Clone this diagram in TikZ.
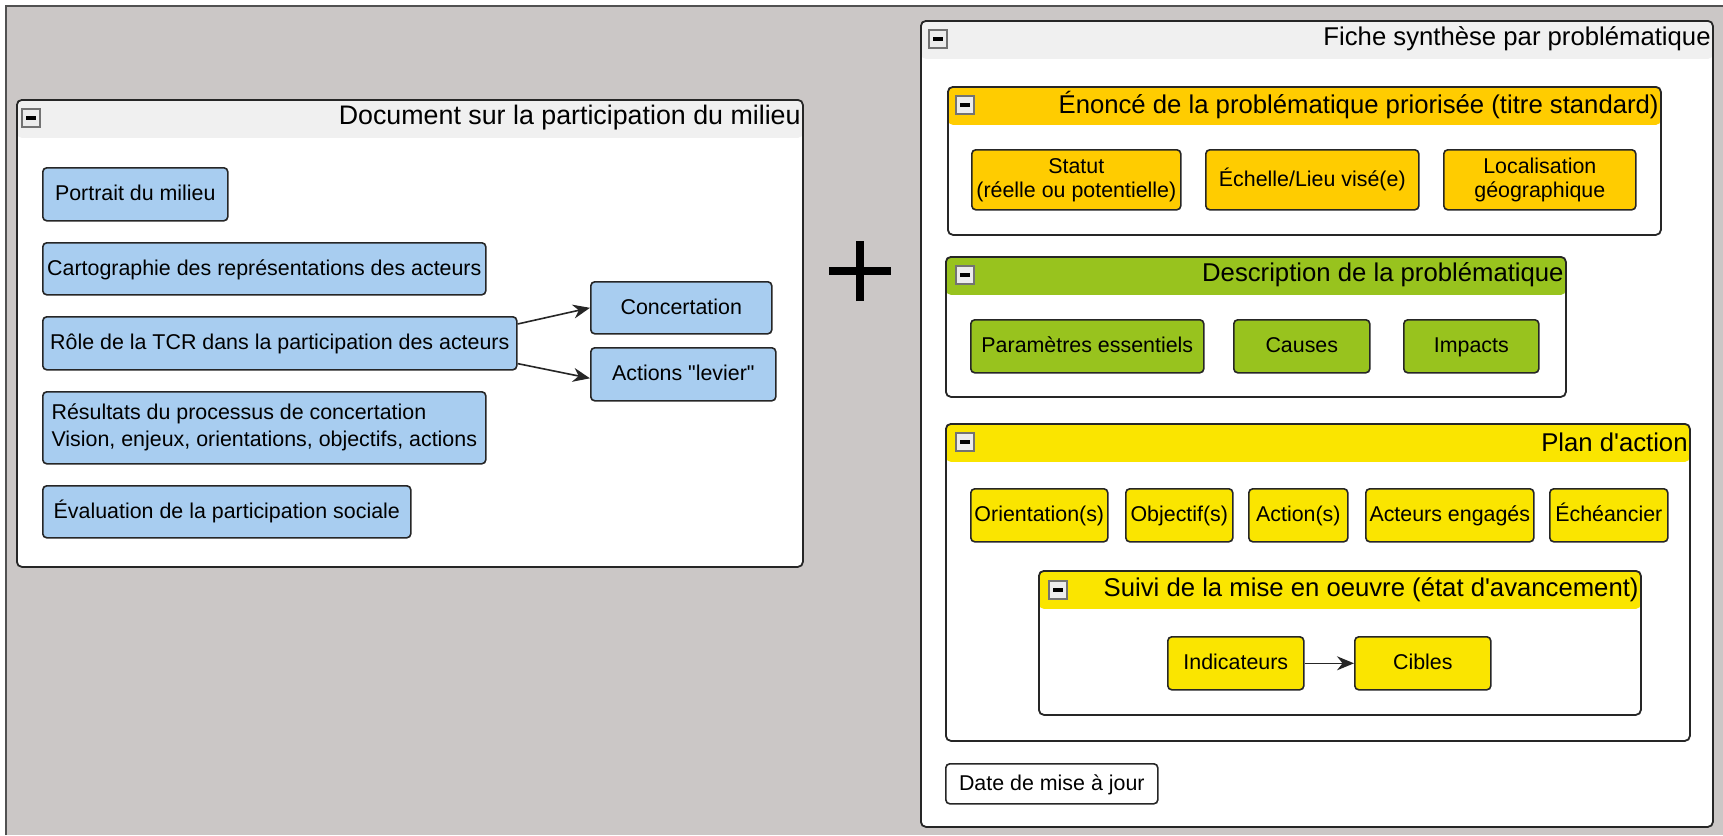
\documentclass[tikz,border=0pt]{standalone}
\usepackage{fontspec}
\setmainfont{Liberation Sans}[Ligatures=TeXOff]
\usetikzlibrary{arrows.meta,positioning}

\definecolor{bggray}{RGB}{203,199,198}
\definecolor{edge}{RGB}{38,38,38}
\definecolor{headgray}{RGB}{240,240,240}
\definecolor{skyblue}{RGB}{168,205,240}
\definecolor{amber}{RGB}{255,204,0}
\definecolor{leaf}{RGB}{152,195,30}
\definecolor{lemon}{RGB}{250,229,0}

\begin{document}
\begin{tikzpicture}[x=1pt, y=-1pt,
    box/.style={rectangle, draw=edge, line width=1.6pt, rounded corners=4pt, inner sep=0pt,
        anchor=north west, align=center, text=black, font=\fontsize{21.4}{24}\selectfont},
    oneline/.style={text height=16.5pt, text depth=4pt},
    bluebox/.style={box, fill=skyblue},
    orangebox/.style={box, fill=amber},
    greenbox/.style={box, oneline, fill=leaf},
    yellowbox/.style={box, oneline, fill=lemon},
    group/.style={rectangle, draw=edge, line width=1.8pt, rounded corners=5pt, fill=white,
        anchor=north west, inner sep=0pt,
        path picture={\fill[#1] (path picture bounding box.north west) rectangle ([yshift=-38pt]path picture bounding box.north east);}},
    heading/.style={anchor=east, inner sep=0pt, text=black, font=\fontsize{25.7}{30}\selectfont},
    minus/.style={rectangle, draw=black!55, line width=1.3pt, fill=white!85!gray, minimum size=18pt, inner sep=0pt,
        path picture={\draw[line width=3.5pt, black] ([xshift=4pt]path picture bounding box.west) -- ([xshift=-4pt]path picture bounding box.east);}},
    arr/.style={-{Stealth[length=17pt, width=14pt]}, line width=1.6pt, draw=edge}
]
\useasboundingbox (0,0) rectangle (1723,835);
\fill[white] (0,0) rectangle (1723,835);
\fill[bggray] (6,6) rectangle (1723,835);
\draw[line width=2pt, edge!80] (6,835) -- (6,6) -- (1723,6);

% left panel
\node[group=headgray, minimum width=786pt, minimum height=467pt] (milieu) at (16,99) {};
\node[minus] (milieumin) at ([xshift=15pt, yshift=-19pt]milieu.north west) {};
\node[heading, font=\fontsize{26.8}{30}\selectfont] (milieutitle) at ([xshift=-3pt, yshift=-19pt]milieu.north east) {Document sur la participation du milieu};

\node[bluebox, oneline, minimum width=185pt, minimum height=53pt] (portrait) at (42,167) {Portrait du milieu};
\node[bluebox, oneline, minimum width=443pt, minimum height=52pt] (carto) at (42,242) {Cartographie des représentations des acteurs};
\node[bluebox, oneline, minimum width=474pt, minimum height=53pt] (role) at (42,316) {Rôle de la TCR dans la participation des acteurs};
\node[bluebox, minimum width=443pt, minimum height=72pt, align=left, font=\fontsize{21.4}{27}\selectfont] (resultats) at (42,391) {Résultats du processus de concertation\\Vision, enjeux, orientations, objectifs, actions};
\node[bluebox, oneline, minimum width=368pt, minimum height=52pt] (evaluation) at (42,485) {Évaluation de la participation sociale};
\node[bluebox, oneline, minimum width=181pt, minimum height=52pt] (concert) at (590,281) {Concertation};
\node[bluebox, oneline, minimum width=185pt, minimum height=53pt] (levier) at (590,347) {Actions "levier"};

\draw[arr] ([yshift=-8pt]role.north east) -- (concert.west);
\draw[arr] ([yshift=7pt]role.south east) -- ([yshift=-4pt]levier.west);

% plus sign
\coordinate (plus) at (860,271);
\draw[line width=7.5pt, black] ([xshift=-31pt]plus) -- ([xshift=31pt]plus);
\draw[line width=7.5pt, black] ([yshift=-30pt]plus) -- ([yshift=30pt]plus);

% right panel
\node[group=headgray, minimum width=792pt, minimum height=806pt] (fiche) at (920,20) {};
\node[minus] (fichemin) at ([xshift=18pt, yshift=-19pt]fiche.north west) {};
\node[heading] (fichetitle) at ([xshift=-3pt, yshift=-19pt]fiche.north east) {Fiche synthèse par problématique};

\node[group=amber, minimum width=713pt, minimum height=148pt] (enonce) at (947,86) {};
\node[minus] (enoncemin) at ([xshift=18pt, yshift=-19pt]enonce.north west) {};
\node[heading] (enoncetitle) at ([xshift=-3pt, yshift=-19pt]enonce.north east) {Énoncé de la problématique priorisée (titre standard)};
\node[orangebox, minimum width=209pt, minimum height=60pt] (statut) at (971,149) {Statut\\(réelle ou potentielle)};
\node[orangebox, oneline, minimum width=213pt, minimum height=60pt] (echelle) at (1205,149) {Échelle/Lieu visé(e)};
\node[orangebox, minimum width=192pt, minimum height=60pt] (localisation) at (1443,149) {Localisation\\géographique};

\node[group=leaf, minimum width=620pt, minimum height=140pt] (descr) at (945,256) {};
\node[minus] (descrmin) at ([xshift=20pt, yshift=-19pt]descr.north west) {};
\node[heading] (descrtitle) at ([xshift=-3pt, yshift=-19pt]descr.north east) {Description de la problématique};
\node[greenbox, minimum width=233pt, minimum height=53pt] (params) at (970,319) {Paramètres essentiels};
\node[greenbox, minimum width=136pt, minimum height=53pt] (causes) at (1233,319) {Causes};
\node[greenbox, minimum width=135pt, minimum height=53pt] (impacts) at (1403,319) {Impacts};

\node[group=lemon, minimum width=744pt, minimum height=317pt] (plan) at (945,423) {};
\node[minus] (planmin) at ([xshift=20pt, yshift=-19pt]plan.north west) {};
\node[heading] (plantitle) at ([xshift=-3pt, yshift=-19pt]plan.north east) {Plan d'action};
\node[yellowbox, minimum width=137pt, minimum height=53pt] (orient) at (970,488) {Orientation(s)};
\node[yellowbox, minimum width=107pt, minimum height=53pt] (objectif) at (1125,488) {Objectif(s)};
\node[yellowbox, minimum width=99pt, minimum height=53pt] (action) at (1248,488) {Action(s)};
\node[yellowbox, minimum width=168pt, minimum height=53pt] (acteurs) at (1365,488) {Acteurs engagés};
\node[yellowbox, minimum width=118pt, minimum height=53pt] (echeancier) at (1549,488) {Échéancier};

\node[group=lemon, minimum width=602pt, minimum height=144pt] (suivi) at (1038,570) {};
\node[minus] (suivimin) at ([xshift=20pt, yshift=-20pt]suivi.north west) {};
\node[heading] (suivititle) at ([xshift=-3pt, yshift=-20pt]suivi.north east) {Suivi de la mise en oeuvre (état d'avancement)};
\node[yellowbox, minimum width=136pt, minimum height=53pt] (indic) at (1167,636) {Indicateurs};
\node[yellowbox, minimum width=136pt, minimum height=53pt] (cibles) at (1354,636) {Cibles};
\draw[arr] (indic) -- (cibles);

\node[box, oneline, fill=white, minimum width=212pt, minimum height=40pt] (datemaj) at (945,763) {Date de mise à jour};
\end{tikzpicture}
\end{document}
